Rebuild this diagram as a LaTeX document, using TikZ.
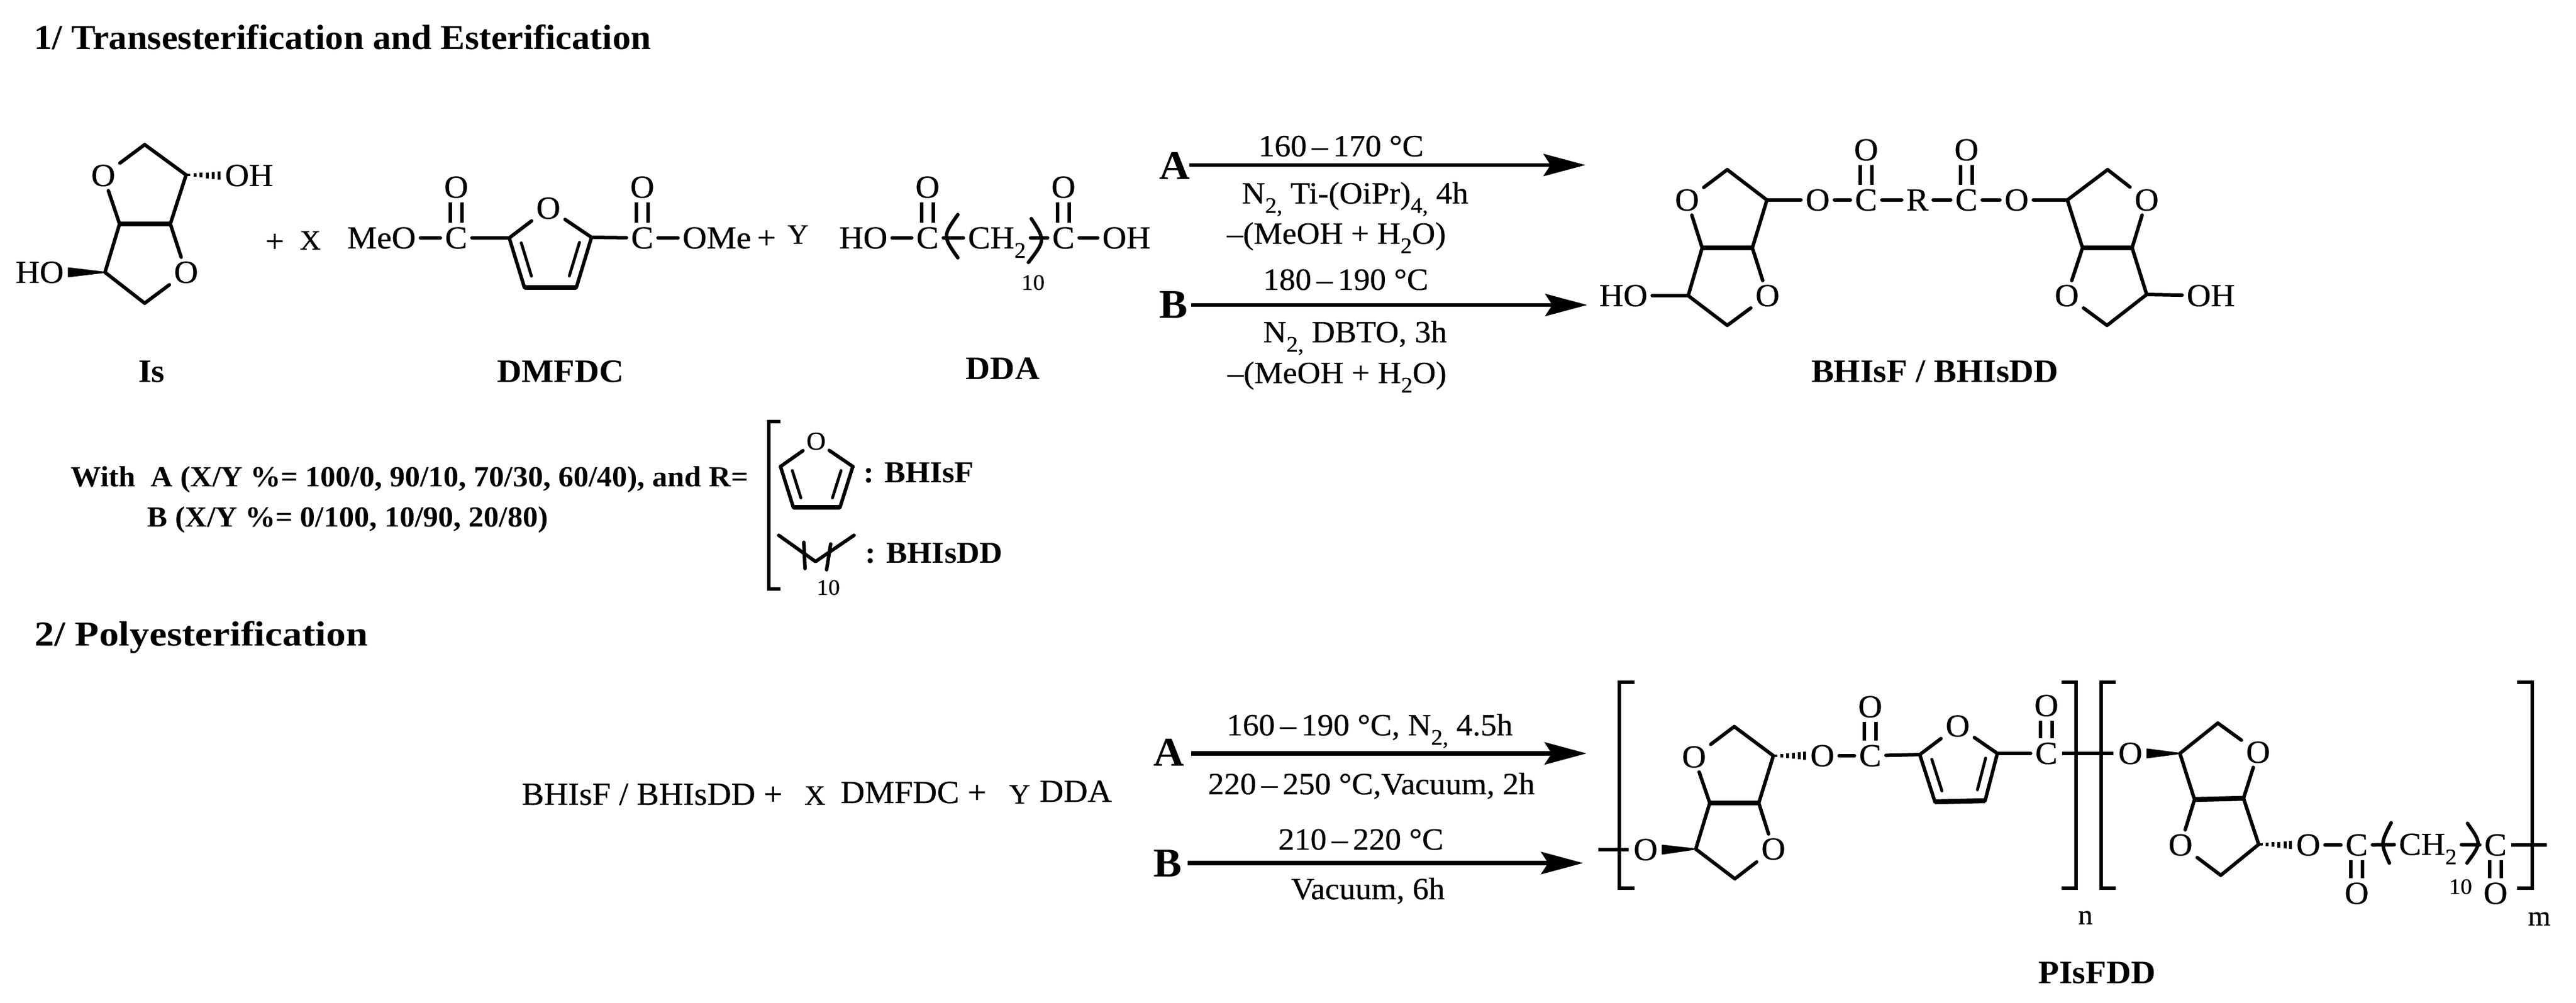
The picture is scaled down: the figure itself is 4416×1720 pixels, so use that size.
\documentclass[tikz,border=0pt]{standalone}
\usepackage{fontspec}
\setmainfont[FakeStretch=1.04,FakeBold=0.5,BoldFeatures={FakeBold=0}]{Liberation Serif}
\usetikzlibrary{arrows.meta,calc}
\newcommand{\sbs}[1]{\raisebox{-16pt}{\fontsize{38}{38}\selectfont #1}}
\tikzset{
  bondline/.style={line width=6pt,line cap=round,line join=round,black},
  heavybond/.style={line width=8.5pt,line cap=butt,black},
  brk/.style={line width=6pt,line cap=butt,line join=miter,black},
  rxn/.style={line width=6.5pt,black,-{Stealth[length=72pt,width=38pt,inset=12pt]}},
  atomlbl/.style={inner xsep=8pt,inner ysep=8pt,outer sep=0pt,text height=36pt,text depth=0pt,font=\fontsize{55}{60}\selectfont},
  atomsmall/.style={inner xsep=6pt,inner ysep=6pt,outer sep=0pt,text height=28pt,text depth=0pt,font=\fontsize{44}{50}\selectfont},
  lbl/.style={inner sep=0pt,outer sep=0pt,anchor=base,font=\fontsize{55}{60}\selectfont},
  lcond/.style={lbl,font=\fontsize{53}{60}\selectfont},
  lwith/.style={lbl,font=\fontsize{50}{60}\selectfont\bfseries},
  lkey/.style={lbl,font=\fontsize{52}{60}\selectfont\bfseries},
  lname/.style={lbl,font=\fontsize{56}{60}\selectfont\bfseries},
  lhead/.style={lbl,font=\fontsize{60}{60}\selectfont\bfseries},
  lbig/.style={lbl,font=\fontsize{70}{70}\selectfont\bfseries},
  lcoef/.style={lbl,font=\fontsize{48}{50}\selectfont},
  ltiny/.style={lbl,font=\fontsize{38}{40}\selectfont},
}
% isosorbide skeleton: prefix, top, O1, C1, fA, fB, O2, C2, bottom
\newcommand{\Iso}[9]{
  \coordinate (#1t) at (#2);
  \node[atomlbl] (#1oa) at (#3) {O};
  \coordinate (#1ca) at (#4);
  \coordinate (#1fa) at (#5);
  \coordinate (#1fb) at (#6);
  \node[atomlbl] (#1ob) at (#7) {O};
  \coordinate (#1cb) at (#8);
  \coordinate (#1b) at (#9);
  \draw[bondline] (#1t) -- (#1oa) -- (#1fa);
  \draw[bondline] (#1fb) -- (#1ca) -- (#1t);
  \draw[bondline] (#1fa) -- (#1cb) -- (#1b) -- (#1ob) -- (#1fb);
  \draw[heavybond] (#1fa) -- (#1fb);
}
% furan ring: prefix (node <prefix>o exists), L, R, LL, LR
\newcommand{\Fur}[5]{
  \coordinate (#1l) at (#2);
  \coordinate (#1r) at (#3);
  \coordinate (#1ll) at (#4);
  \coordinate (#1lr) at (#5);
  \draw[bondline] (#1l) -- (#1o) -- (#1r);
  \draw[bondline] (#1l) -- (#1ll);
  \draw[bondline] (#1r) -- (#1lr);
  \draw[heavybond] (#1ll) -- (#1lr);
  \draw[line width=5pt,line cap=round] ($(#1l)!.1!(#1ll)+(18,0)$) -- ($(#1l)!.77!(#1ll)+(18,0)$);
  \draw[line width=5pt,line cap=round] ($(#1r)!.1!(#1lr)+(-18,0)$) -- ($(#1r)!.77!(#1lr)+(-18,0)$);
}
% double bond between the upper node and the lower node
\newcommand{\Dbl}[2]{
  \draw[line width=5.5pt,line cap=butt] ([xshift=-10pt]#1.south) -- ([xshift=-10pt]#1.south |- #2.north);
  \draw[line width=5.5pt,line cap=butt] ([xshift=10pt]#1.south) -- ([xshift=10pt]#1.south |- #2.north);
}
\newcommand{\Hash}[2]{
  \foreach \hk/\hh in {.08/2,.26/3,.44/4,.62/5,.80/6,.97/7}{
    \draw[line width=5pt] ($(#1)!\hk!(#2)+(0,-\hh)$) -- ($(#1)!\hk!(#2)+(0,\hh)$);
  }
}
\newcommand{\Wedge}[2]{
  \filldraw[line width=2pt,line join=round] (#1) -- ($(#2)+(0,-7.5)$) -- ($(#2)+(0,7.5)$) -- cycle;
}
\begin{document}
\begin{tikzpicture}[x=1pt,y=-1pt]
\useasboundingbox (0,0) rectangle (4416,1720);
\fill[white] (0,0) rectangle (4416,1720);

% ---- headings
\node[lhead] (h1) at (587,85) {1/ Transesterification and Esterification};
\node[lhead] (h2) at (345,1107) {\scalebox{1.08}[1]{2/ Polyesterification}};

% ---- Is
\Iso{is}{248,248}{177,301}{319,300}{205,384}{292,384}{319,467}{180,467}{248,520}
\node[atomlbl] (isoh) at (427,301) {OH};
\node[atomlbl] (isho) at (68,467) {HO};
\Hash{isca}{isoh.west}
\Wedge{iscb}{isho.east}
\node[lname] (isname) at (260,655) {Is};
\node[lbl] (p1) at (471,432) {+};
\node[lcoef] (cx) at (532,428) {X};

% ---- DMFDC
\node[atomlbl] (dmeo) at (654,408) {MeO};
\node[atomlbl] (dc1) at (782,408) {C};
\node[atomlbl] (do1) at (782,321) {O};
\node[atomlbl] (do) at (940,357) {O};
\Fur{d}{873,408}{1014,407}{899,493}{988,493}
\node[atomlbl] (dc2) at (1101,408) {C};
\node[atomlbl] (do2) at (1101,321) {O};
\node[atomlbl] (dome) at (1229,408) {OMe};
\draw[bondline] (dmeo) -- (dc1);
\draw[bondline] (dc1) -- (dl);
\draw[bondline] (dr) -- (dc2);
\draw[bondline] (dc2) -- (dome);
\Dbl{do1}{dc1}
\Dbl{do2}{dc2}
\node[lname] (dname) at (961,655) {DMFDC};
\node[lbl] (p2) at (1314,426) {+};
\node[lcoef] (cy) at (1368,418) {Y};

% ---- DDA
\node[atomlbl] (aho) at (1480,408) {HO};
\node[atomlbl] (ac1) at (1590,408) {C};
\node[atomlbl] (ao1) at (1590,321) {O};
\node[atomlbl] (ach) at (1709,408) {CH\sbs{2}};
\node[atomlbl] (ac2) at (1823,408) {C};
\node[atomlbl] (ao2) at (1823,321) {O};
\node[atomlbl] (aoh) at (1931,408) {OH};
\draw[bondline] (aho) -- (ac1);
\draw[bondline] (ac1) -- (ach);
\draw[bondline] (ach) -- (ac2);
\draw[bondline] (ac2) -- (aoh);
\Dbl{ao1}{ac1}
\Dbl{ao2}{ac2}
\draw[bondline] (1642,368) .. controls (1616,405) .. (1642,442);
\draw[bondline] (1768,375) .. controls (1792,412) .. (1763,450);
\node[ltiny] (a10) at (1771,497) {10};
\node[lname] (aname) at (1719,650) {DDA};

% ---- upper arrows
\coordinate (ua1) at (2039,283);
\coordinate (ua2) at (2718,283);
\coordinate (ub1) at (2042,523);
\coordinate (ub2) at (2721,523);
\draw[rxn] (ua1) -- (ua2);
\draw[rxn] (ub1) -- (ub2);
\node[lbig] (ula) at (2014,308) {A};
\node[lbig] (ulb) at (2012,545) {B};
\node[lcond] (uc1) at (2299,268) {160\,–\,170 °C};
\node[lcond] (uc2) at (2323,349) {N\sbs{2,} Ti-(OiPr)\sbs{4,} 4h};
\node[lcond] (uc3) at (2291,418) {–(MeOH + H\sbs{2}O)};
\node[lcond] (uc4) at (2307,497) {180\,–\,190 °C};
\node[lcond] (uc5) at (2323,587) {N\sbs{2,} DBTO, 3h};
\node[lcond] (uc6) at (2292,657) {–(MeOH + H\sbs{2}O)};

% ---- BHIsF / BHIsDD
\Iso{bl}{2961,291}{2892,343}{3029,343}{2918,425}{3004,425}{3030,507}{2894,507}{2961,558}
\Iso{br}{3613,291}{3680,343}{3544,343}{3655,425}{3570,425}{3543,507}{3680,505}{3612,558}
\node[atomlbl] (bho) at (2783,507) {HO};
\node[atomlbl] (boh) at (3790,507) {OH};
\node[atomlbl] (bo1) at (3116,343) {O};
\node[atomlbl] (bc1) at (3199,343) {C};
\node[atomlbl] (bd1) at (3199,257) {O};
\node[atomlbl] (bR) at (3287,343) {R};
\node[atomlbl] (bc2) at (3371,343) {C};
\node[atomlbl] (bd2) at (3371,257) {O};
\node[atomlbl] (bo2) at (3457,343) {O};
\draw[bondline] (bho) -- (blcb);
\draw[bondline] (brcb) -- (boh);
\draw[bondline] (blca) -- (bo1);
\draw[bondline] (bo1) -- (bc1);
\draw[bondline] (bc1) -- (bR);
\draw[bondline] (bR) -- (bc2);
\draw[bondline] (bc2) -- (bo2);
\draw[bondline] (bo2) -- (brca);
\Dbl{bd1}{bc1}
\Dbl{bd2}{bc2}
\node[lname] (bname) at (3317,655) {BHIsF / BHIsDD};

% ---- With line
\node[lwith] (w1) at (702,834) {With\ \ A (X/Y \%= 100/0, 90/10, 70/30, 60/40), and R=};
\node[lwith] (w2) at (596,903) {B (X/Y \%= 0/100, 10/90, 20/80)};
\draw[brk] (1338,723) -- (1318,723) -- (1318,1010) -- (1338,1010);
\node[atomsmall] (so) at (1399,757) {O};
\Fur{s}{1338,800}{1462,800}{1360,870}{1440,870}
\node[lkey] (w3) at (1575,827) {: BHIsF};
\coordinate (z1) at (1335,918);
\coordinate (z2) at (1398,963);
\coordinate (z3) at (1464,918);
\draw[bondline] (z1) -- (z2) -- (z3);
\draw[bondline] (1378,930) -- (1380,975);
\draw[bondline] (1424,933) -- (1417,977);
\node[lkey] (w4) at (1601,965) {: BHIsDD};
\node[ltiny] (w5) at (1420,1020) {10};

% ---- Polyesterification
\node[lbl] (r1) at (1118,1380) {BHIsF / BHIsDD +};
\node[lcoef] (r2) at (1397,1380) {X};
\node[lbl] (r3) at (1566,1377) {DMFDC +};
\node[lcoef] (r4) at (1748,1378) {Y};
\node[lbl] (r5) at (1844,1375) {DDA};
\coordinate (la1) at (2042,1292);
\coordinate (la2) at (2720,1292);
\coordinate (lb1) at (2036,1480);
\coordinate (lb2) at (2714,1480);
\draw[rxn,line width=8pt] (la1) -- (la2);
\draw[rxn,line width=8pt] (lb1) -- (lb2);
\node[lbig] (lla) at (2004,1313) {A};
\node[lbig] (llb) at (2002,1503) {B};
\node[lcond] (lc1) at (2348,1261) {160\,–\,190 °C, N\sbs{2,} 4.5h};
\node[lcond] (lc2) at (2351,1362) {220\,–\,250 °C,Vacuum, 2h};
\node[lcond] (lc3) at (2333,1457) {210\,–\,220 °C};
\node[lcond] (lc4) at (2345,1542) {Vacuum, 6h};

% ---- polymer
\draw[brk] (2802,1170) -- (2776,1170) -- (2776,1523) -- (2802,1523);
\draw[brk] (3534,1170) -- (3559,1170) -- (3559,1523) -- (3534,1523);
\draw[brk] (3627,1170) -- (3602,1170) -- (3602,1523) -- (3627,1523);
\draw[brk] (4315,1170) -- (4341,1170) -- (4341,1523) -- (4315,1523);
\coordinate (pst) at (2740,1457);
\node[atomlbl] (po1) at (2821,1457) {O};
\draw[bondline,line cap=butt] (pst) -- (po1);
\Iso{pa}{2973,1246}{2904,1298}{3040,1296}{2931,1377}{3015,1377}{3040,1456}{2907,1456}{2974,1507}
\Wedge{pacb}{po1.east}
\node[atomlbl] (po2) at (3124,1296) {O};
\Hash{paca}{po2.west}
\node[atomlbl] (pc1) at (3206,1296) {C};
\node[atomlbl] (pd1) at (3206,1212) {O};
\node[atomlbl] (pfo) at (3356,1245) {O};
\Fur{pf}{3291,1294}{3424,1292}{3317,1375}{3403,1373}
\node[atomlbl] (pc2) at (3508,1292) {C};
\node[atomlbl] (pd2) at (3508,1210) {O};
\node[atomlbl] (po3) at (3652,1292) {O};
\draw[bondline] (po2) -- (pc1);
\draw[bondline] (pc1) -- (pfl);
\draw[bondline] (pfr) -- (pc2);
\draw[bondline,line cap=butt] (pc2) -- (po3);
\Dbl{pd1}{pc1}
\Dbl{pd2}{pc2}
\Iso{pb}{3802,1240}{3871,1290}{3737,1292}{3846,1369}{3762,1371}{3738,1449}{3872,1448}{3807,1501}
\Wedge{pbca}{po3.east}
\node[atomlbl] (po4) at (3957,1449) {O};
\Hash{pbcb}{po4.west}
\node[atomlbl] (pc3) at (4040,1449) {C};
\node[atomlbl] (pd3) at (4040,1532) {O};
\node[atomlbl] (pch) at (4162,1448) {CH\sbs{2}};
\node[atomlbl] (pc4) at (4278,1449) {C};
\node[atomlbl] (pd4) at (4278,1532) {O};
\coordinate (pend) at (4366,1449);
\draw[bondline] (po4) -- (pc3);
\draw[bondline] (pc3) -- (pch);
\draw[bondline] (pch) -- (pc4);
\draw[bondline,line cap=butt] (pc4) -- (pend);
\Dbl{pc3}{pd3}
\Dbl{pc4}{pd4}
\draw[bondline] (4099,1411) .. controls (4081,1446) .. (4096,1480);
\draw[bondline] (4230,1412) .. controls (4254,1446) .. (4229,1480);
\node[ltiny] (p10) at (4218,1533) {10};
\node[lcoef] (pn) at (3575,1585) {n};
\node[lcoef] (pm) at (4353,1587) {m};
\node[lname] (pname) at (3595,1686) {PIsFDD};
\end{tikzpicture}
\end{document}
